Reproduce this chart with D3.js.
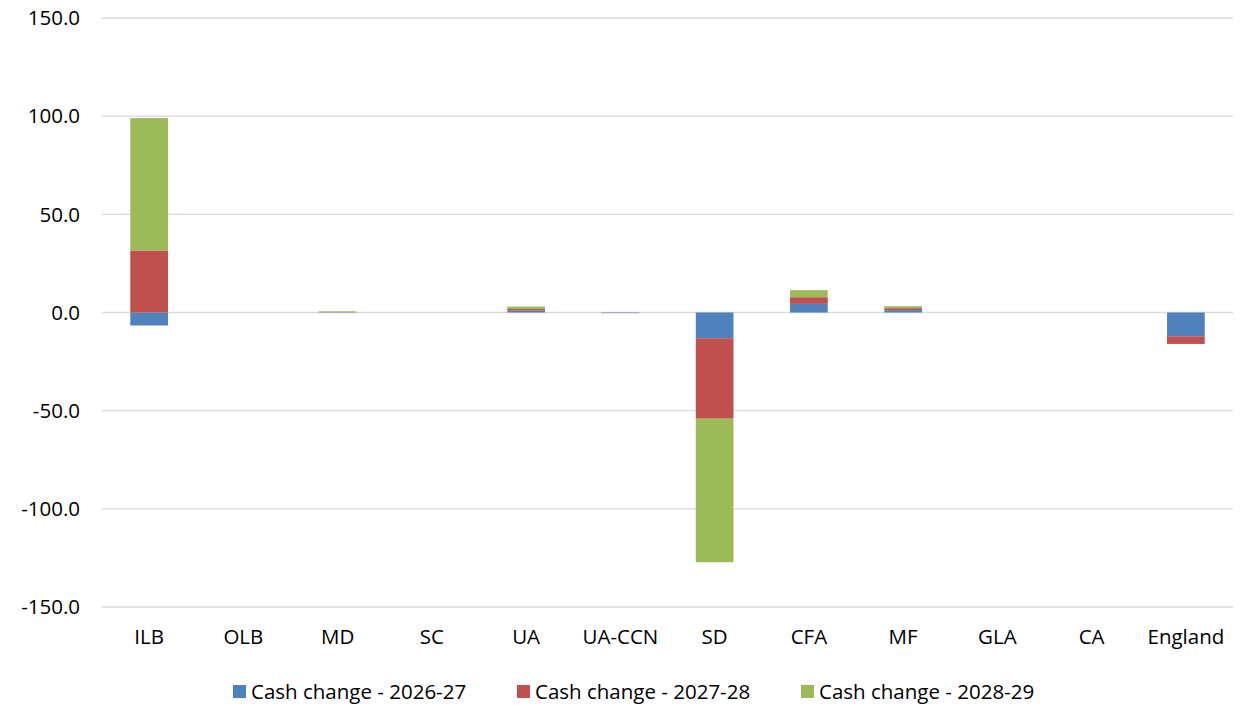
<!DOCTYPE html>
<html>
<head>
<meta charset="utf-8">
<script src="https://cdn.jsdelivr.net/npm/d3@7"></script>
<style>
  body { margin: 0; background: #fff; }
  text { font-family: "Open Sans", Lato, sans-serif; fill: #000; }
</style>
</head>
<body>
<div id="chart"></div>
<script>
// categories + series values
const categories = ["ILB", "OLB", "MD", "SC", "UA", "UA-CCN", "SD", "CFA", "MF", "GLA", "CA", "England"];
const seriesNames = ["Cash change - 2026-27", "Cash change - 2027-28", "Cash change - 2028-29"];
const cash2026 = [-6.6, 0, 0.1, 0, 1.0, -0.2, -13.1, 4.4, 1.2, 0, 0, -12.1];
const cash2027 = [31.6, 0, 0.1, 0, 0.8, -0.1, -41.0, 3.4, 1.0, 0, 0, -3.9];
const cash2028 = [67.4, 0, 0.4, 0, 1.2, 0, -73.1, 3.6, 1.0, 0, 0, 0];
const yTicks = [-150, -100, -50, 0, 50, 100, 150];
const colors = ["#4F81BD", "#C0504D", "#9BBB59"];

const width = 1253, height = 705;
const margin = { left: 102, right: 20, top: 18, bottom: 98 };
const fontSize = 20.5;

const svg = d3.select("#chart").append("svg")
  .attr("width", width)
  .attr("height", height);

const x = d3.scaleBand()
  .domain(categories)
  .range([margin.left, width - margin.right])
  .paddingInner(0.6)
  .paddingOuter(0.3);

const y = d3.scaleLinear()
  .domain([-150, 150])
  .range([height - margin.bottom, margin.top]);

// gridlines
svg.append("g")
  .selectAll("line")
  .data(yTicks)
  .join("line")
  .attr("x1", margin.left)
  .attr("x2", width - margin.right)
  .attr("y1", d => y(d))
  .attr("y2", d => y(d))
  .attr("stroke", "#d9d9d9")
  .attr("stroke-width", 1.3);

// y labels, plain hyphen for minus like Excel
svg.append("g")
  .selectAll("text")
  .data(yTicks)
  .join("text")
  .attr("x", 80)
  .attr("y", d => y(d))
  .attr("dy", "0.35em")
  .attr("text-anchor", "end")
  .attr("font-size", fontSize)
  .text(d => d.toFixed(1));

// stacking: positives up from 0, negatives down from 0 (like Excel)
const table = categories.map((c, i) => ({ cat: c, vals: [cash2026[i], cash2027[i], cash2028[i]] }));
const segs = [];
table.forEach(row => {
  let pos = 0, neg = 0;
  row.vals.forEach((v, s) => {
    if (v >= 0) { segs.push({ cat: row.cat, s: s, y0: pos, y1: pos + v }); pos += v; }
    else { segs.push({ cat: row.cat, s: s, y0: neg, y1: neg + v }); neg += v; }
  });
});

svg.append("g")
  .selectAll("rect")
  .data(segs.filter(d => d.y0 !== d.y1))
  .join("rect")
  .attr("x", d => x(d.cat))
  .attr("width", x.bandwidth())
  .attr("y", d => y(Math.max(d.y0, d.y1)))
  .attr("height", d => Math.abs(y(d.y0) - y(d.y1)))
  .attr("fill", d => colors[d.s]);

// x labels
svg.append("g")
  .selectAll("text")
  .data(categories)
  .join("text")
  .attr("x", d => x(d) + x.bandwidth() / 2)
  .attr("y", 637)
  .attr("dy", "0.35em")
  .attr("text-anchor", "middle")
  .attr("font-size", fontSize)
  .text(d => d);

// legend
const legend = svg.append("g")
  .selectAll("g")
  .data(seriesNames)
  .join("g")
  .attr("transform", (d, i) => "translate(" + (233 + i * 284) + ",685)");
legend.append("rect")
  .attr("width", 13)
  .attr("height", 13)
  .attr("fill", (d, i) => colors[i]);
legend.append("text")
  .attr("x", 18)
  .attr("y", 6.5)
  .attr("dy", "0.35em")
  .attr("font-size", fontSize)
  .text(d => d);
</script>
</body>
</html>
